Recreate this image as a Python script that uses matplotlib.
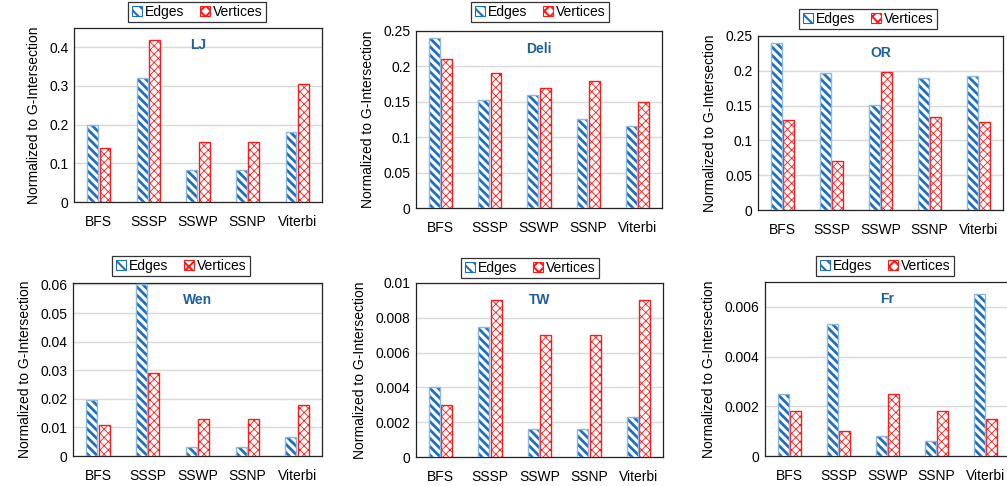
import numpy as np
import matplotlib
matplotlib.use("Agg")
import matplotlib.pyplot as plt
from matplotlib.patches import Patch
from matplotlib.ticker import FuncFormatter

plt.rcParams["font.family"] = ["Liberation Sans", "DejaVu Sans"]

# ---------------------------------------------------------------------------
# Data
# ---------------------------------------------------------------------------
algorithms = ["BFS", "SSSP", "SSWP", "SSNP", "Viterbi"]
series_names = ["Edges", "Vertices"]
graphs = ["LJ", "Deli", "OR", "Wen", "TW", "Fr"]

lj_edges = [0.20, 0.32, 0.083, 0.083, 0.18]
lj_vertices = [0.14, 0.42, 0.155, 0.155, 0.305]
deli_edges = [0.24, 0.152, 0.16, 0.126, 0.116]
deli_vertices = [0.21, 0.19, 0.17, 0.18, 0.15]
or_edges = [0.24, 0.197, 0.151, 0.189, 0.193]
or_vertices = [0.13, 0.071, 0.198, 0.133, 0.126]
wen_edges = [0.0195, 0.0603, 0.0033, 0.0033, 0.0066]
wen_vertices = [0.011, 0.029, 0.013, 0.013, 0.018]
tw_edges = [0.0040, 0.0075, 0.0016, 0.0016, 0.0023]
tw_vertices = [0.0030, 0.0090, 0.0070, 0.0070, 0.0090]
fr_edges = [0.0025, 0.0053, 0.0008, 0.0006, 0.0065]
fr_vertices = [0.0018, 0.0010, 0.0025, 0.0018, 0.0015]

edges_by_graph = [lj_edges, deli_edges, or_edges, wen_edges, tw_edges, fr_edges]
vertices_by_graph = [lj_vertices, deli_vertices, or_vertices,
                     wen_vertices, tw_vertices, fr_vertices]

y_max = [0.45, 0.25, 0.25, 0.0605, 0.01, 0.007]
y_step = [0.1, 0.05, 0.05, 0.01, 0.002, 0.002]

# pixel layout of each panel: left, right, top, bottom
W, H = 1007, 486
panel_px = [(74, 322, 28, 202), (416, 662, 31, 208), (758, 1003, 36, 210),
            (73, 322, 283, 456), (416, 663, 283, 457), (765, 1010, 282, 456)]
legend_px = [(197, 12), (540, 12), (868, 19), (181, 266), (530, 268), (885, 266)]

BLUE = "#1F6FBF"
BLUE_EDGE = "#8DB8E2"
RED = "#FF1A1A"
TITLE_BLUE = "#1F5F9F"
E_HATCH = "\\\\\\\\"
V_HATCH = "xxxx"

fig = plt.figure(figsize=(W / 100, H / 100), dpi=100)

x = np.arange(len(algorithms))
bw = 0.22
off = 0.125


def fmt(v, pos):
    return f"{v:.4f}".rstrip("0").rstrip(".") if v != 0 else "0"


def set_hlw(patches, lw):
    for p in patches:
        if hasattr(p, "set_hatch_linewidth"):
            p.set_hatch_linewidth(lw)


for i, name in enumerate(graphs):
    l, r, t, b = panel_px[i]
    ax = fig.add_axes([l / W, 1 - b / H, (r - l) / W, (b - t) / H])

    # Edges: thick blue diagonal stripes, light blue outline
    with plt.rc_context({"hatch.linewidth": 2.0}):
        e_bars = ax.bar(x - off, edges_by_graph[i], bw, color="white",
                        edgecolor=BLUE, hatch=E_HATCH, linewidth=0, zorder=3)
    set_hlw(e_bars, 2.0)
    ax.bar(x - off, edges_by_graph[i], bw, color="none",
           edgecolor=BLUE_EDGE, linewidth=1.0, zorder=4)

    # Vertices: thin red crosshatch
    with plt.rc_context({"hatch.linewidth": 0.6}):
        v_bars = ax.bar(x + off, vertices_by_graph[i], bw, color="white",
                        edgecolor=RED, hatch=V_HATCH, linewidth=1.0, zorder=3)
    set_hlw(v_bars, 0.6)

    ax.set_xlim(-0.5, len(algorithms) - 0.5)
    ax.set_ylim(0, y_max[i])
    ticks = np.arange(0, y_max[i] + 1e-12, y_step[i])
    ax.set_yticks(ticks)
    ax.yaxis.set_major_formatter(FuncFormatter(fmt))
    ax.set_xticks(x)
    ax.set_xticklabels(algorithms)
    ax.tick_params(axis="both", length=0, labelsize=10)
    ax.tick_params(axis="x", pad=9)
    ax.tick_params(axis="y", pad=4)
    ax.grid(axis="y", color="#D9D9D9", linewidth=1.0, zorder=0)
    ax.set_axisbelow(True)
    for s in ax.spines.values():
        s.set_color("#222222")
        s.set_linewidth(0.9)

    ax.set_ylabel("Normalized to G-Intersection", fontsize=10, labelpad=6)
    ax.text(0.5, 0.9, name, transform=ax.transAxes, ha="center", va="center",
            fontsize=10, fontweight="bold", color=TITLE_BLUE, zorder=5)

    # legend proxies: small hatched squares
    with plt.rc_context({"hatch.linewidth": 1.5}):
        h_e = Patch(facecolor="white", edgecolor=BLUE, hatch="\\\\\\", linewidth=0.8)
    with plt.rc_context({"hatch.linewidth": 0.6}):
        h_v = Patch(facecolor="white", edgecolor=RED, hatch="xxx", linewidth=0.8)
    set_hlw([h_e], 1.5)
    set_hlw([h_v], 0.6)

    lx, ly = legend_px[i]
    with plt.rc_context({"hatch.linewidth": 1.5}):
        leg = ax.legend([h_e, h_v], series_names, loc="center",
                        bbox_to_anchor=(lx / W, 1 - ly / H),
                        bbox_transform=fig.transFigure, ncol=2, fontsize=10,
                        frameon=True, fancybox=False, edgecolor="black",
                        handlelength=0.75, handleheight=0.75, handletextpad=0.2,
                        columnspacing=1.1, borderpad=0.25, borderaxespad=0)
    leg.get_frame().set_linewidth(0.9)

fig.savefig("out.png", dpi=100)
